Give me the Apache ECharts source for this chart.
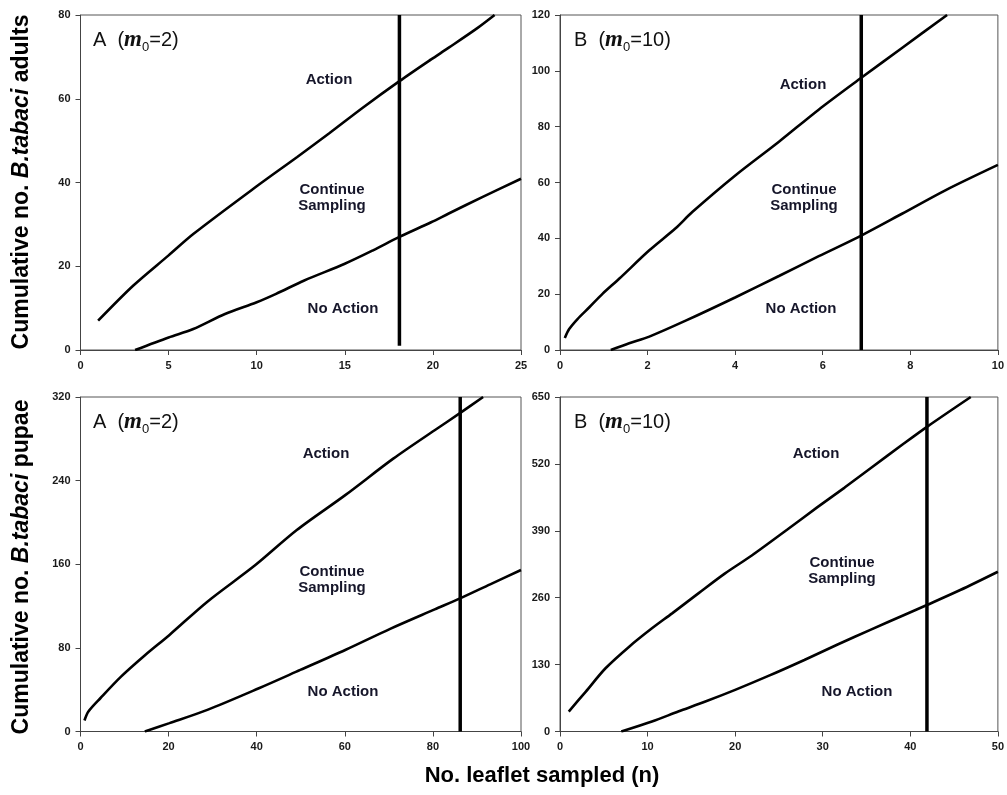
<!DOCTYPE html>
<html>
<head>
<meta charset="utf-8">
<script src="https://cdn.jsdelivr.net/npm/echarts@6/dist/echarts.min.js"></script>
<style>
html,body{margin:0;padding:0;background:#fff;}
#c{width:1007px;height:795px;}
</style>
</head>
<body>
<div id="c"></div>
<script>
// ---- Data ----
// Top-left: adults, m0 = 2
const adultsA_action = [[1,7],[3,15.4],[5,22.6],[6.4,27.7],[10,39.1],[12.3,46.1],[14.1,51.7],[16,57.8],[18.1,64.2],[19.9,69.4],[20.9,72.2],[22.5,76.8],[23.5,80]];
const adultsA_noaction = [[3.1,0],[5,3],[6.4,5],[8.2,8.6],[10,11.4],[11.1,13.4],[12.7,16.6],[15,20.6],[16.6,23.8],[18.1,27],[19.9,30.5],[20.9,32.6],[22.8,36.5],[25,40.9]];
const adultsA_stop = 18.1;
// Top-right: adults, m0 = 10
const adultsB_action = [[0.11,4.3],[0.21,7.5],[0.4,11.1],[0.67,15.3],[0.97,20.1],[1.35,25.5],[2.04,35.7],[2.64,43.6],[3.02,49.4],[4.01,62.6],[5,74.6],[5.9,86],[6.88,97.5],[7.81,108.2],[8.84,120]];
const adultsB_noaction = [[1.16,0],[1.58,2.4],[2.04,4.8],[2.87,10.5],[4.01,18.9],[5,26.5],[5.91,33.6],[6.88,41],[7.81,48.8],[8.8,57.2],[10,66.3]];
const adultsB_stop = 6.88;
// Bottom-left: pupae, m0 = 2
const pupaeA_action = [[0.9,10.5],[1.8,19.1],[4.5,31.8],[9.2,52.5],[14.7,73.2],[20.2,92.4],[28.8,124.2],[39.7,159.2],[49.1,192.7],[60.1,226.1],[71,261],[80.4,288.2],[86.3,305],[91.4,320]];
const pupaeA_noaction = [[14.6,0],[20.2,8],[28.8,20.7],[40.5,41.4],[49.9,58.9],[60.1,78],[70.3,98.2],[80.4,116.8],[86.3,127.6],[93,140.8],[100,154.5]];
const pupaeA_stop = 86.2;
// Bottom-right: pupae, m0 = 10
const pupaeB_action = [[1,38.8],[2.95,77.6],[5.2,122.9],[7.9,164.9],[10.5,200.5],[12.8,229.6],[15.8,268.4],[18.85,307.2],[21.9,342],[26,393],[29.4,436],[32.5,474],[35.5,512],[39.3,560],[41.9,592],[46.9,650]];
const pupaeB_noaction = [[7,0],[10.5,19.4],[13.5,38.8],[16.6,58.2],[20,80.9],[23.8,108],[27.9,139],[31.7,169],[35.5,198],[39.3,226.4],[41.9,245.8],[45.7,274.9],[50,310.5]];
const pupaeB_stop = 41.9;

// Axis ranges / tick steps
const xMax = [25, 10, 100, 50];
const xStep = [5, 2, 20, 10];
const yMax = [80, 120, 320, 650];
const yStep = [20, 20, 80, 130];

const panelTitles = [['A','2'],['B','10'],['A','2'],['B','10']];
const regionLabels = ['Action', 'Continue\nSampling', 'No Action'];
const yTitles = ['adults', 'pupae'];
const xTitle = 'No. leaflet sampled (n)';

// ---- Layout ----
const grids = [
  {left: 80.5, top: 15, width: 440.5, height: 335},
  {left: 560, top: 15, width: 439, height: 335},
  {left: 80.5, top: 397, width: 440.5, height: 334.5},
  {left: 560, top: 397, width: 439, height: 334.5}
];

const labelFont = {fontFamily: 'Liberation Sans, Arial, sans-serif', fontWeight: 'bold', fontSize: 11, color: '#1a1a1a'};

const xAxes = grids.map((g, i) => ({
  type: 'value', gridIndex: i, min: 0, max: xMax[i], interval: xStep[i],
  axisLine: {show: true, onZero: false, lineStyle: {color: '#444', width: 1}},
  axisTick: {show: true, inside: false, length: 5, lineStyle: {color: '#444'}},
  splitLine: {show: false},
  axisLabel: Object.assign({margin: 10}, labelFont)
}));
const yAxes = grids.map((g, i) => ({
  type: 'value', gridIndex: i, min: 0, max: yMax[i], interval: yStep[i],
  axisLine: {show: true, onZero: false, lineStyle: {color: '#444', width: 1}},
  axisTick: {show: true, inside: false, length: 5, lineStyle: {color: '#444'}},
  splitLine: {show: false},
  axisLabel: Object.assign({margin: 10}, labelFont)
}));

const curves = [
  [adultsA_action, adultsA_noaction, adultsA_stop, 1],
  [adultsB_action, adultsB_noaction, adultsB_stop, 0],
  [pupaeA_action, pupaeA_noaction, pupaeA_stop, 0],
  [pupaeB_action, pupaeB_noaction, pupaeB_stop, 0]
];

const series = [];
curves.forEach((c, i) => {
  [c[0], c[1]].forEach(d => series.push({
    type: 'line', xAxisIndex: i, yAxisIndex: i, data: d,
    smooth: 0.3, showSymbol: false, silent: true,
    lineStyle: {color: '#000', width: 2.6}
  }));
  series.push({
    type: 'line', xAxisIndex: i, yAxisIndex: i,
    data: [[c[2], c[3]], [c[2], yMax[i]]],
    showSymbol: false, silent: true,
    lineStyle: {color: '#000', width: 3.5}
  });
});

// ---- Text graphics ----
const regionFont = 'bold 15px "Liberation Sans", Arial, sans-serif';
const regionPos = [
  [[329, 80], [332, 198], [343, 309]],
  [[803, 85], [804, 198], [801, 309]],
  [[326, 454], [332, 580], [343, 692]],
  [[816, 454], [842, 571], [857, 692]]
];
const graphics = [];
regionPos.forEach(p => {
  p.forEach((pt, k) => graphics.push({
    type: 'text', x: pt[0], y: pt[1],
    style: {text: regionLabels[k], font: regionFont, fill: '#16162a', align: 'center', verticalAlign: 'middle', lineHeight: 16}
  }));
});

const titlePos = [[93, 40], [574, 40], [93, 422], [574, 422]];
panelTitles.forEach((t, i) => {
  graphics.push({
    type: 'text', x: titlePos[i][0], y: titlePos[i][1],
    style: {
      text: '{a|' + t[0] + '}{a|  (}{m|m}{s|0}{a|=' + t[1] + ')}',
      align: 'left', verticalAlign: 'middle',
      rich: {
        a: {fontFamily: '"Liberation Sans", Arial, sans-serif', fontSize: 20, fill: '#111', lineHeight: 26},
        m: {fontFamily: '"Liberation Serif", "DejaVu Serif", serif', fontStyle: 'italic', fontWeight: 'bold', fontSize: 23, fill: '#111', lineHeight: 26},
        s: {fontFamily: '"Liberation Sans", Arial, sans-serif', fontSize: 13, fill: '#111', lineHeight: 26, padding: [14, 0, 0, 0]}
      }
    }
  });
});

const yTitlePos = [[22, 182], [22, 567]];
yTitles.forEach((t, i) => {
  graphics.push({
    type: 'text', x: yTitlePos[i][0], y: yTitlePos[i][1], rotation: Math.PI / 2,
    style: {
      text: '{r|Cumulative no. }{it|B.tabaci}{r| ' + t + '}',
      align: 'center', verticalAlign: 'middle',
      rich: {
        r: {fontFamily: '"Liberation Sans", Arial, sans-serif', fontWeight: 'bold', fontSize: 23, fill: '#000'},
        it: {fontFamily: '"Liberation Sans", Arial, sans-serif', fontWeight: 'bold', fontStyle: 'italic', fontSize: 23, fill: '#000'}
      }
    }
  });
});
graphics.push({
  type: 'text', x: 542, y: 776,
  style: {text: xTitle, font: 'bold 22px "Liberation Sans", Arial, sans-serif', fill: '#000', align: 'center', verticalAlign: 'middle'}
});

const chart = echarts.init(document.getElementById('c'), null, {renderer: 'canvas'});
chart.setOption({
  animation: false,
  backgroundColor: '#fff',
  grid: grids.map(g => Object.assign({show: true, borderColor: '#555', borderWidth: 1, backgroundColor: 'transparent', containLabel: false}, g)),
  xAxis: xAxes,
  yAxis: yAxes,
  series: series,
  graphic: graphics
});
</script>
</body>
</html>
